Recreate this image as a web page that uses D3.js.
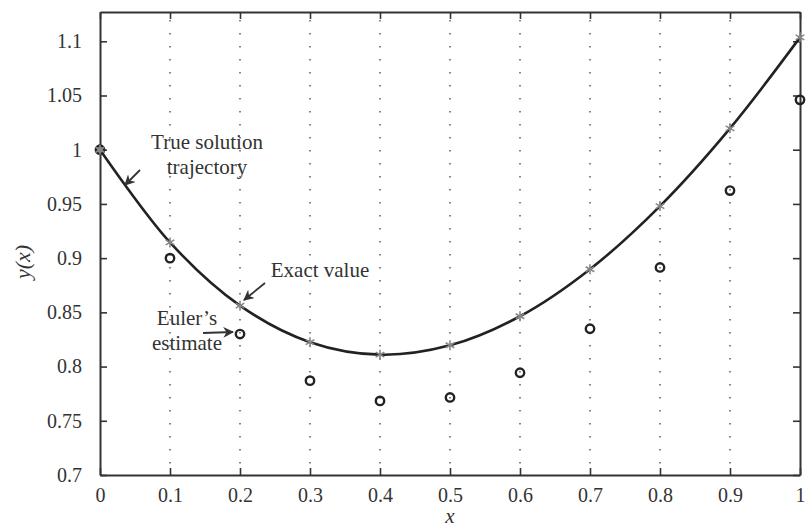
<!DOCTYPE html>
<html>
<head>
<meta charset="utf-8">
<script src="https://cdn.jsdelivr.net/npm/d3@7"></script>
<style>
  body { margin: 0; background: #fff; }
  svg text { font-family: "Liberation Serif", "Times New Roman", serif; fill: #333; }
</style>
</head>
<body>
<svg id="chart" width="811" height="529"></svg>
<script>
// values (step h = 0.1)
const xs = [0, 0.1, 0.2, 0.3, 0.4, 0.5, 0.6, 0.7, 0.8, 0.9, 1.0];
const exactY = [1.0, 0.9145, 0.8562, 0.8225, 0.811, 0.8196, 0.8464, 0.8898, 0.948, 1.0197, 1.1036];
const eulerY = [1.0, 0.9, 0.83, 0.787, 0.7683, 0.7715, 0.7943, 0.8349, 0.8914, 0.9623, 1.046];
const xTicks = [0, 0.1, 0.2, 0.3, 0.4, 0.5, 0.6, 0.7, 0.8, 0.9, 1];
const yTicks = [0.7, 0.75, 0.8, 0.85, 0.9, 0.95, 1, 1.05, 1.1];

const svg = d3.select('#chart');
const mLeft = 100, mRight = 800, mTop = 12, mBottom = 475;

const x = d3.scaleLinear().domain([0, 1]).range([mLeft, mRight]);
const y = d3.scaleLinear().domain([0.7, 1.127]).range([mBottom, mTop]);

// dotted vertical grid
svg.append('g')
  .selectAll('line')
  .data(xTicks.slice(1, -1))
  .join('line')
  .attr('x1', d => x(d)).attr('x2', d => x(d))
  .attr('y1', mTop).attr('y2', mBottom)
  .attr('stroke', '#666')
  .attr('stroke-width', 1.6)
  .attr('stroke-dasharray', '1.5,11.5')
  .attr('stroke-dashoffset', -8);

// axes with inward ticks, box style
const tickLen = 7;
svg.append('g')
  .attr('transform', `translate(0,${mBottom})`)
  .call(d3.axisBottom(x).tickValues(xTicks).tickSizeInner(-tickLen).tickSizeOuter(0).tickPadding(13)
    .tickFormat(d => d === 0 || d === 1 ? d3.format('d')(d) : d3.format('.1f')(d)))
  .call(g => g.selectAll('text').style('font-size', '20px'));

svg.append('g')
  .attr('transform', `translate(0,${mTop})`)
  .call(d3.axisTop(x).tickValues(xTicks).tickSizeInner(-tickLen).tickSizeOuter(0).tickFormat(''));

svg.append('g')
  .attr('transform', `translate(${mLeft},0)`)
  .call(d3.axisLeft(y).tickValues(yTicks).tickSizeInner(-tickLen).tickSizeOuter(0).tickPadding(18)
    .tickFormat(d => d === 1 ? '1' : String(+d.toFixed(2))))
  .call(g => g.selectAll('text').style('font-size', '20px'));

svg.append('g')
  .attr('transform', `translate(${mRight},0)`)
  .call(d3.axisRight(y).tickValues(yTicks).tickSizeInner(-tickLen).tickSizeOuter(0).tickFormat(''));

svg.selectAll('.domain').attr('stroke', '#333').attr('stroke-width', 2);
svg.selectAll('.tick line').attr('stroke', '#333').attr('stroke-width', 1.6);
svg.selectAll('.tick text').style('fill', '#333');

// true solution curve
const pts = xs.map((d, i) => [d, exactY[i]]);
svg.append('path')
  .datum(pts)
  .attr('fill', 'none')
  .attr('stroke', '#222')
  .attr('stroke-width', 2.6)
  .attr('d', d3.line().x(d => x(d[0])).y(d => y(d[1])).curve(d3.curveCatmullRom.alpha(0.5)));

// Euler estimates (open circles)
svg.append('g')
  .selectAll('circle')
  .data(xs.map((d, i) => [d, eulerY[i]]))
  .join('circle')
  .attr('cx', d => x(d[0]))
  .attr('cy', d => y(d[1]))
  .attr('r', 4.2)
  .attr('fill', (d, i) => i === 0 ? '#888' : 'none')
  .attr('stroke', '#222')
  .attr('stroke-width', 2.4);

// exact values (asterisks)
const star = 5;
const starG = svg.append('g').attr('stroke', '#888').attr('stroke-width', 1.6);
pts.forEach(d => {
  const cx = x(d[0]), cy = y(d[1]);
  [0, 60, 120].forEach(a => {
    const r = a * Math.PI / 180;
    starG.append('line')
      .attr('x1', cx - star * Math.sin(r)).attr('y1', cy - star * Math.cos(r))
      .attr('x2', cx + star * Math.sin(r)).attr('y2', cy + star * Math.cos(r));
  });
});

// axis labels
svg.append('text')
  .attr('x', x(0.5)).attr('y', 523)
  .attr('text-anchor', 'middle')
  .style('font-size', '21px').style('font-style', 'italic')
  .text('x');

svg.append('text')
  .attr('transform', 'translate(30,262) rotate(-90)')
  .attr('text-anchor', 'middle')
  .style('font-size', '22px').style('font-style', 'italic')
  .text('y(x)');

// annotations
svg.append('defs').append('marker')
  .attr('id', 'head')
  .attr('viewBox', '0 0 10 10')
  .attr('refX', 9).attr('refY', 5)
  .attr('markerWidth', 6).attr('markerHeight', 6)
  .attr('orient', 'auto')
  .append('path').attr('d', 'M0,0 L10,5 L0,10 L3,5 z').attr('fill', '#333');

function note(lines, cx, cy, gap) {
  const t = svg.append('text').attr('text-anchor', 'middle').style('font-size', '21px');
  lines.forEach((s, i) => t.append('tspan').attr('x', cx).attr('y', cy + i * gap).text(s));
}
function arrow(x1, y1, x2, y2) {
  svg.append('line')
    .attr('x1', x1).attr('y1', y1).attr('x2', x2).attr('y2', y2)
    .attr('stroke', '#333').attr('stroke-width', 1.8)
    .attr('marker-end', 'url(#head)');
}

note(['True solution', 'trajectory'], 207, 149, 25);
arrow(140, 170, 125, 185);

note(['Exact value'], 320, 277, 0);
arrow(265, 283, 244, 300);

note(['Euler\u2019s', 'estimate'], 187, 325, 25);
arrow(203, 333, 233, 332);
</script>
</body>
</html>
